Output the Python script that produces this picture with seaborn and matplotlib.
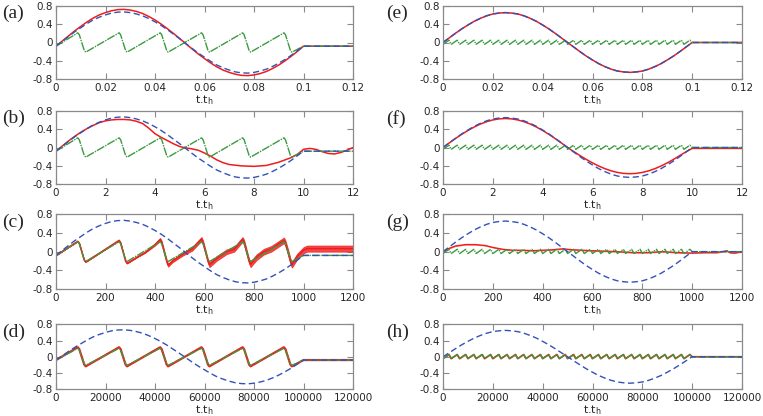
import matplotlib
matplotlib.use("Agg")
import matplotlib.pyplot as plt
import pandas as pd
import seaborn as sns

# ---- data ----
# phase grid for the drive curves: t / t_end, 0..1 then flat to 1.2
phase = [0.000, 0.025, 0.050, 0.075, 0.100, 0.125, 0.150, 0.175, 0.200, 0.225,
         0.250, 0.275, 0.300, 0.325, 0.350, 0.375, 0.400, 0.425, 0.450, 0.475,
         0.500, 0.525, 0.550, 0.575, 0.600, 0.625, 0.650, 0.675, 0.700, 0.725,
         0.750, 0.775, 0.800, 0.825, 0.850, 0.875, 0.900, 0.925, 0.950, 0.975,
         1.000, 1.200]

blue_left = [-0.08, 0.025, 0.13, 0.23, 0.32, 0.41, 0.49, 0.55, 0.60, 0.64,
             0.66, 0.665, 0.65, 0.62, 0.58, 0.52, 0.45, 0.37, 0.28, 0.18,
             0.08, -0.025, -0.13, -0.23, -0.32, -0.41, -0.49, -0.55, -0.60, -0.64,
             -0.66, -0.665, -0.65, -0.62, -0.58, -0.52, -0.45, -0.37, -0.28, -0.18,
             -0.08, -0.08]

blue_right = [0.0, 0.10, 0.20, 0.295, 0.38, 0.46, 0.525, 0.58, 0.62, 0.64,
              0.65, 0.64, 0.62, 0.58, 0.525, 0.46, 0.38, 0.295, 0.20, 0.10,
              0.0, -0.10, -0.20, -0.295, -0.38, -0.46, -0.525, -0.58, -0.62, -0.64,
              -0.65, -0.64, -0.62, -0.58, -0.525, -0.46, -0.38, -0.295, -0.20, -0.10,
              0.0, 0.0]

red_a = [-0.08, 0.03, 0.14, 0.25, 0.35, 0.445, 0.53, 0.60, 0.65, 0.69,
         0.715, 0.72, 0.705, 0.675, 0.63, 0.565, 0.49, 0.40, 0.30, 0.195,
         0.085, -0.03, -0.14, -0.25, -0.35, -0.445, -0.53, -0.60, -0.65, -0.69,
         -0.715, -0.72, -0.705, -0.675, -0.63, -0.565, -0.49, -0.40, -0.30, -0.195,
         -0.08, -0.08]

red_f = [0.0, 0.099, 0.195, 0.286, 0.37, 0.445, 0.51, 0.561, 0.599, 0.622,
         0.63, 0.622, 0.599, 0.561, 0.51, 0.445, 0.37, 0.286, 0.195, 0.099,
         0.0, -0.089, -0.176, -0.259, -0.335, -0.403, -0.461, -0.508, -0.542, -0.563,
         -0.57, -0.563, -0.542, -0.508, -0.461, -0.403, -0.335, -0.259, -0.176, -0.095,
         -0.02, -0.02]

# slow sawtooth (left column), in phase units
green_left_p = [0.000, 0.088, 0.094, 0.114, 0.120,
                0.255, 0.261, 0.281, 0.287,
                0.421, 0.427, 0.447, 0.453,
                0.588, 0.594, 0.614, 0.620,
                0.754, 0.760, 0.780, 0.786,
                0.921, 0.927, 0.947, 0.953,
                1.000, 1.200]
green_left_y = [-0.08, 0.21, 0.17, -0.17, -0.21,
                0.21, 0.17, -0.17, -0.21,
                0.21, 0.17, -0.17, -0.21,
                0.21, 0.17, -0.17, -0.21,
                0.21, 0.17, -0.17, -0.21,
                0.21, 0.17, -0.17, -0.21,
                -0.08, -0.08]
red_d_y = [-0.08, 0.235, 0.19, -0.19, -0.235,
           0.235, 0.19, -0.19, -0.235,
           0.235, 0.19, -0.19, -0.235,
           0.235, 0.19, -0.19, -0.235,
           0.235, 0.19, -0.19, -0.235,
           0.235, 0.19, -0.19, -0.235,
           -0.08, -0.08]

# fast zigzag (right column), in phase units
green_right_lows = [0.000, 0.033, 0.067, 0.100, 0.133, 0.167, 0.200, 0.233, 0.267, 0.300,
                    0.333, 0.367, 0.400, 0.433, 0.467, 0.500, 0.533, 0.567, 0.600, 0.633,
                    0.667, 0.700, 0.733, 0.767, 0.800, 0.833, 0.867, 0.900, 0.933, 0.967]
green_right_highs = [0.024, 0.057, 0.091, 0.124, 0.157, 0.191, 0.224, 0.257, 0.291, 0.324,
                     0.357, 0.391, 0.424, 0.457, 0.491, 0.524, 0.557, 0.591, 0.624, 0.657,
                     0.691, 0.724, 0.757, 0.791, 0.824, 0.857, 0.891, 0.924, 0.957, 0.991]
green_right_level = (-0.04, 0.05)
red_h_level = (-0.045, 0.055)

red_b_x = [0, 0.25, 0.5, 0.75, 1.0, 1.25, 1.5, 1.75, 2.0, 2.25, 2.5, 2.75, 3.0,
           3.25, 3.5, 3.75, 4.0, 4.25, 4.5, 4.75, 5.0, 5.25, 5.5, 5.75, 6.0, 6.25,
           6.5, 6.75, 7.0, 7.5, 8.0, 8.5, 9.0, 9.5, 9.75, 10.0, 10.25, 10.5, 10.75,
           11.0, 11.25, 11.5, 11.75, 12.0]
red_b_y = [-0.08, 0.03, 0.14, 0.24, 0.33, 0.41, 0.48, 0.54, 0.58, 0.60, 0.61, 0.61, 0.60,
           0.57, 0.52, 0.42, 0.30, 0.22, 0.15, 0.08, 0.02, -0.01, -0.03, -0.06, -0.12, -0.19,
           -0.27, -0.33, -0.37, -0.40, -0.41, -0.39, -0.32, -0.22, -0.15, -0.04, -0.02, -0.04, -0.09,
           -0.13, -0.14, -0.11, -0.06, 0.0]

red_c_x = [0, 88, 94, 114, 120, 255, 261, 281, 287, 330, 360, 400, 421, 427, 437, 447,
           453, 470, 510, 550, 588, 594, 604, 614, 620, 650, 690, 720, 754, 760, 770,
           780, 786, 810, 840, 870, 921, 927, 937, 947, 953, 975, 1000, 1015, 1200]
red_c_y = [-0.08, 0.22, 0.18, -0.18, -0.22, 0.24, 0.19, -0.20, -0.25, -0.11, -0.02, 0.15,
           0.26, 0.20, 0.0, -0.20, -0.29, -0.20, -0.06, 0.06, 0.27, 0.20, 0.0, -0.20,
           -0.28, -0.14, 0.0, 0.05, 0.26, 0.20, 0.0, -0.20, -0.27, -0.12, 0.0, 0.06,
           0.24, 0.18, 0.0, -0.20, -0.28, -0.10, 0.03, 0.065, 0.065]
red_c_spread = [0, 0, 0, 0, 0, 0, 0, 0, 0, 0, 0.005, 0.02, 0.03, 0.03, 0.03, 0.03,
                0.03, 0.03, 0.03, 0.04, 0.04, 0.04, 0.04, 0.04, 0.05, 0.05, 0.05, 0.05,
                0.05, 0.05, 0.05, 0.05, 0.06, 0.06, 0.06, 0.06, 0.06, 0.06, 0.06, 0.06,
                0.06, 0.06, 0.065, 0.065, 0.065]

red_g_x = [0, 20, 50, 90, 130, 170, 200, 240, 280, 320, 360, 400, 440, 480, 520, 560,
           600, 650, 700, 760, 820, 880, 940, 1000, 1050, 1100, 1140, 1150, 1170, 1200]
red_g_y = [0.0, 0.06, 0.12, 0.15, 0.15, 0.13, 0.09, 0.05, 0.03, 0.03, 0.02, 0.03, 0.04,
           0.06, 0.04, 0.03, 0.02, 0.01, 0.0, -0.02, -0.02, 0.0, -0.02, -0.03, -0.02,
           -0.02, 0.02, -0.02, -0.03, 0.0]

panel_letters = ["(a)", "(b)", "(c)", "(d)", "(e)", "(f)", "(g)", "(h)"]
t_ends = [0.1, 10, 1000, 100000]
x_ticks = [[0, 0.02, 0.04, 0.06, 0.08, 0.1, 0.12],
           [0, 2, 4, 6, 8, 10, 12],
           [0, 200, 400, 600, 800, 1000, 1200],
           [0, 20000, 40000, 60000, 80000, 100000, 120000]]
x_labels = [["0", "0.02", "0.04", "0.06", "0.08", "0.1", "0.12"],
            ["0", "2", "4", "6", "8", "10", "12"],
            ["0", "200", "400", "600", "800", "1000", "1200"],
            ["0", "20000", "40000", "60000", "80000", "100000", "120000"]]
y_ticks = [-0.8, -0.4, 0, 0.4, 0.8]
y_labels = ["-0.8", "-0.4", "0", "0.4", "0.8"]

RED = "#f01c1c"
BLUE = "#3352b8"
GREEN = "#3a9a3e"
FRAME = "#8a8a8a"

sns.set_style("ticks")
plt.rcParams["font.family"] = ["DejaVu Sans"]


def zigzag(lows, highs, level):
    """Interleave trough/peak positions of the fast zigzag."""
    xs, ys = [], []
    for lo, hi in zip(lows, highs):
        xs += [lo, hi]
        ys += [level[0], level[1]]
    xs += [1.0, 1.2]
    ys += [0.0, 0.0]
    return xs, ys


def line(ax, x, y, color, style, lw=1.0):
    sns.lineplot(x=x, y=y, ax=ax, color=color, linestyle=style, linewidth=lw,
                 estimator=None, sort=False, legend=False)


fig = plt.figure(figsize=(7.63, 4.16), dpi=100)
W, H = 763, 416
rows = [(5.7, 79.3), (110.7, 184.3), (214.0, 289.3), (324.3, 389.3)]
cols = [(56, 353), (443, 742)]

green_r_x, green_r_y = zigzag(green_right_lows, green_right_highs, green_right_level)
red_h_x, red_h_y = zigzag(green_right_lows, green_right_highs, red_h_level)

for c, (x0, x1) in enumerate(cols):
    for r, (y0, y1) in enumerate(rows):
        ax = fig.add_axes([x0 / W, 1 - y1 / H, (x1 - x0) / W, (y1 - y0) / H])
        span = t_ends[r]
        px = [p * span for p in phase]
        idx = c * 4 + r

        if c == 0:
            gx = [p * span for p in green_left_p]
            gy = green_left_y
            blue = blue_left
        else:
            gx = [p * span for p in green_r_x]
            gy = green_r_y
            blue = blue_right

        # red traces differ per panel
        if idx == 0:
            line(ax, px, red_a, RED, "-", 1.1)
        elif idx == 1:
            line(ax, red_b_x, red_b_y, RED, "-", 1.1)
        elif idx == 2:
            lo = [y - s for y, s in zip(red_c_y, red_c_spread)]
            hi = [y + s for y, s in zip(red_c_y, red_c_spread)]
            ax.fill_between(red_c_x, lo, hi, color=RED, alpha=0.8, linewidth=0.6)
            line(ax, red_c_x, red_c_y, RED, "-", 1.1)
        elif idx == 3:
            line(ax, gx, red_d_y, RED, "-", 1.6)
        elif idx == 4:
            line(ax, px, blue_right, RED, "-", 1.1)
        elif idx == 5:
            line(ax, px, red_f, RED, "-", 1.1)
        elif idx == 6:
            ax.fill_between(red_g_x, [y - 0.012 for y in red_g_y],
                            [y + 0.012 for y in red_g_y], color=RED, alpha=0.5, linewidth=0)
            line(ax, red_g_x, red_g_y, RED, "-", 1.0)
        else:
            line(ax, [p * span for p in red_h_x], red_h_y, "#c0401a", "-", 1.3)

        line(ax, gx, gy, GREEN, (0, (6, 0.8, 1, 0.8)), 1.0)
        line(ax, px, blue, BLUE, (0, (4.5, 2.5)), 1.0)

        ax.set_xlim(0, 1.2 * span)
        ax.set_ylim(-0.8, 0.8)
        ax.set_xticks(x_ticks[r])
        ax.set_xticklabels(x_labels[r])
        ax.set_yticks(y_ticks)
        ax.set_yticklabels(y_labels)
        ax.tick_params(direction="in", top=True, right=True, length=4, width=0.8,
                       color=FRAME, labelsize=7.5, pad=2.5)
        for sp in ax.spines.values():
            sp.set_color(FRAME)
            sp.set_linewidth(0.9)
        ax.set_xlabel(r"t.t$_\mathrm{h}$", fontsize=8, labelpad=0)
        ax.set_ylabel("")

        lx = 2 / W if c == 0 else 386 / W
        fig.text(lx, 1 - (y0 + 8) / H, panel_letters[idx], fontsize=14,
                 family="Liberation Serif", va="center", ha="left")

fig.savefig("out.png", dpi=100)
